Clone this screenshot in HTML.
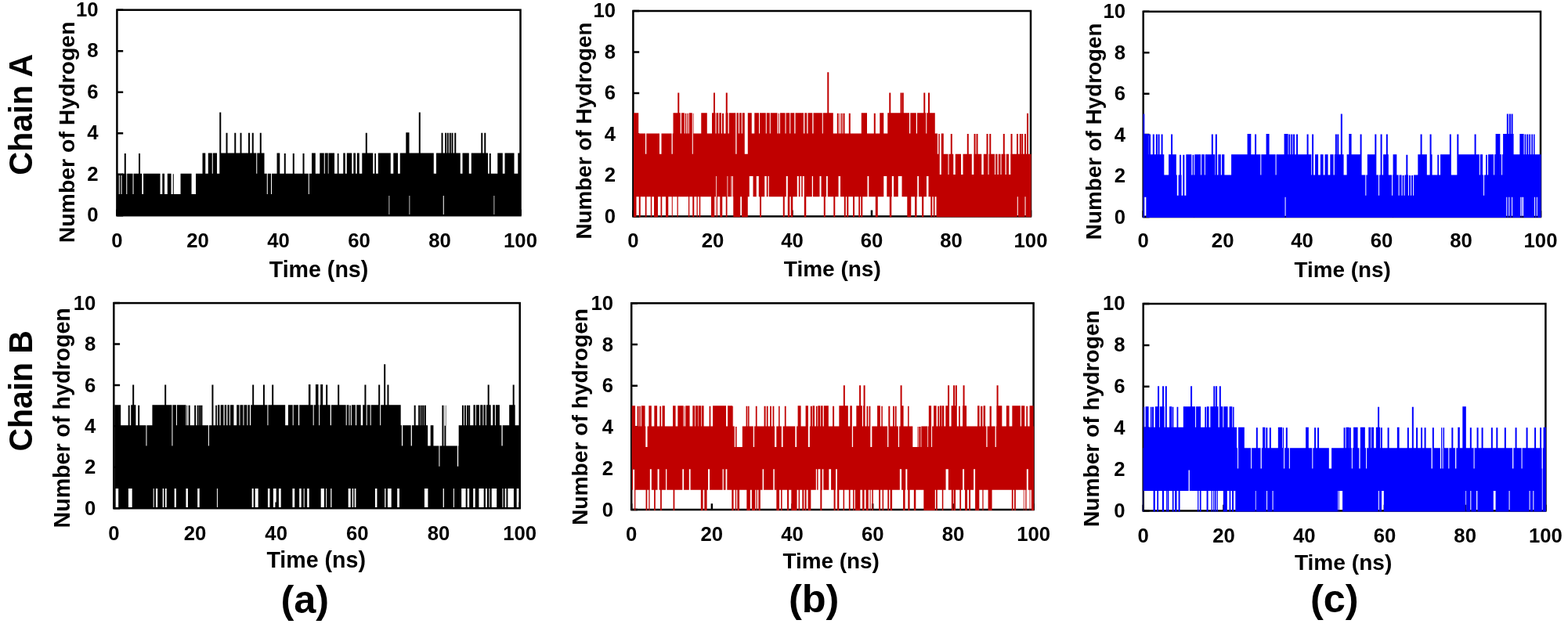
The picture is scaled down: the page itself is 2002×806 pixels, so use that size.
<!DOCTYPE html>
<html><head><meta charset="utf-8"><title>Hydrogen bonds</title>
<style>html,body{margin:0;padding:0;background:#fff;}body{width:2002px;height:806px;overflow:hidden;}svg{display:block;}</style>
</head><body>
<svg width="2002" height="806" viewBox="0 0 2002 806" font-family="'Liberation Sans', sans-serif" font-weight="bold" fill="#000">
<rect width="2002" height="806" fill="#fff"/>
<rect x="149.4" y="12.7" width="515.1" height="262.5" fill="none" stroke="#000" stroke-width="2.5"/>
<path d="M149.4 275.2h7.8M149.4 222.7h7.8M149.4 170.2h7.8M149.4 117.7h7.8M149.4 65.2h7.8M149.4 12.7h7.8M149.4 275.2v-7.8M252.42 275.2v-7.8M355.44 275.2v-7.8M458.46 275.2v-7.8M561.48 275.2v-7.8M664.5 275.2v-7.8" stroke="#000" stroke-width="2.5" fill="none"/>
<path d="M150.03 222.2H151.78V276.1H150.03ZM151.78 247.95H152.78V276.1H151.78ZM152.78 222.2H154.53V276.1H152.78ZM154.53 247.95H155.53V276.1H154.53ZM155.53 221.7H158.78V276.1H155.53ZM158.78 195.95H160.78V276.1H158.78ZM160.78 221.7H161.28V276.1H160.78ZM161.28 247.95H162.28V276.1H161.28ZM162.28 221.7H169.53V276.1H162.28ZM169.53 247.95H170.53V276.1H169.53ZM170.53 221.7H177.03V276.1H170.53ZM177.03 195.95H179.03V276.1H177.03ZM179.03 221.7H181.28V276.1H179.03ZM181.28 247.95H183.03V276.1H181.28ZM183.03 221.7H204.53V276.1H183.03ZM204.53 247.95H207.28V276.1H204.53ZM207.28 221.7H210.03V276.1H207.28ZM210.03 247.95H213.78V276.1H210.03ZM213.78 221.7H218.53V276.1H213.78ZM218.53 247.95H220.78V276.1H218.53ZM220.78 222.2H221.78V276.1H220.78ZM221.78 247.95H230.53V276.1H221.78ZM230.53 221.7H244.53V276.1H230.53ZM244.53 247.95H250.03V276.1H244.53ZM250.03 221.7H258.52V276.1H250.03ZM258.52 195.45H262.27V276.1H258.52ZM262.27 221.7H265.77V276.1H262.27ZM265.77 195.45H270.77V276.1H265.77ZM270.77 221.7H271.77V276.1H270.77ZM271.77 195.45H277.02V276.1H271.77ZM277.02 221.7H280.27V276.1H277.02ZM280.27 143.45H282.27V276.1H280.27ZM282.27 195.45H288.52V276.1H282.27ZM288.52 169.7H290.52V276.1H288.52ZM290.52 195.45H299.27V276.1H290.52ZM299.27 169.7H301.27V276.1H299.27ZM301.27 195.45H306.52V276.1H301.27ZM306.52 169.7H308.52V276.1H306.52ZM308.52 195.45H317.02V276.1H308.52ZM317.02 169.7H319.02V276.1H317.02ZM319.02 195.45H321.77V276.1H319.02ZM321.77 169.7H323.77V276.1H321.77ZM323.77 195.45H327.27V276.1H323.77ZM327.27 221.7H328.27V276.1H327.27ZM328.27 195.45H331.77V276.1H328.27ZM331.77 169.7H333.77V276.1H331.77ZM333.77 195.45H337.52V276.1H333.77ZM337.52 221.7H340.77V276.1H337.52ZM340.77 247.95H341.77V276.1H340.77ZM341.77 221.7H346.02V276.1H341.77ZM346.02 247.95H347.02V276.1H346.02ZM347.02 221.7H353.52V276.1H347.02ZM353.52 195.45H357.27V276.1H353.52ZM357.27 221.7H362.77V276.1H357.27ZM362.77 195.95H364.77V276.1H362.77ZM364.77 221.7H373.77V276.1H364.77ZM373.77 195.95H375.77V276.1H373.77ZM375.77 221.7H386.52V276.1H375.77ZM386.52 195.95H388.52V276.1H386.52ZM388.52 221.7H393.77V276.1H388.52ZM393.77 247.95H394.77V276.1H393.77ZM394.77 221.7H398.02V276.1H394.77ZM398.02 195.45H402.77V276.1H398.02ZM402.77 221.7H408.27V276.1H402.77ZM408.27 195.45H413.77V276.1H408.27ZM413.77 221.7H414.77V276.1H413.77ZM414.77 195.45H418.77V276.1H414.77ZM418.77 221.7H419.52V276.1H418.77ZM419.52 195.45H427.02V276.1H419.52ZM427.02 221.7H430.77V276.1H427.02ZM430.77 195.95H432.52V276.1H430.77ZM432.52 221.7H438.27V276.1H432.52ZM438.27 195.45H440.77V276.1H438.27ZM440.77 221.7H442.77V276.1H440.77ZM442.77 195.45H449.27V276.1H442.77ZM449.27 221.7H451.27V276.1H449.27ZM451.27 195.45H454.02V276.1H451.27ZM454.02 221.7H455.77V276.1H454.02ZM455.77 195.45H458.77V276.1H455.77ZM458.77 221.7H462.27V276.1H458.77ZM462.27 195.45H466.77V276.1H462.27ZM466.77 169.7H468.77V276.1H466.77ZM468.77 195.45H476.27V276.1H468.77ZM476.27 221.7H478.27V276.1H476.27ZM478.27 195.95H480.02V276.1H478.27ZM480.02 221.7H482.77V276.1H480.02ZM482.77 195.45H496.52V276.1H482.77ZM496.52 195.45H497.27V249.95H496.52ZM497.27 195.45H498.77V276.1H497.27ZM498.77 221.7H502.27V276.1H498.77ZM502.27 195.45H508.02V276.1H502.27ZM508.02 221.7H510.77V276.1H508.02ZM510.77 195.45H518.27V276.1H510.77ZM518.27 169.2H522.52V276.1H518.27ZM522.52 195.45H523.27V249.95H522.52ZM523.27 195.45H534.77V276.1H523.27ZM534.77 143.45H536.77V276.1H534.77ZM536.77 195.45H553.77V276.1H536.77ZM553.77 221.7H557.02V276.1H553.77ZM557.02 195.45H563.52V276.1H557.02ZM563.52 169.7H565.52V276.1H563.52ZM565.52 195.45H565.77V276.1H565.52ZM565.77 195.45H566.77V249.95H565.77ZM566.77 195.45H568.02V276.1H566.77ZM568.02 169.7H570.02V276.1H568.02ZM570.02 195.45H570.77V276.1H570.02ZM570.77 169.7H572.77V276.1H570.77ZM572.77 195.45H573.77V276.1H572.77ZM573.77 169.7H575.77V276.1H573.77ZM575.77 195.45H576.52V276.1H575.77ZM576.52 169.7H578.52V276.1H576.52ZM578.52 195.45H580.27V276.1H578.52ZM580.27 169.7H582.27V276.1H580.27ZM582.27 195.45H587.77V276.1H582.27ZM587.77 221.7H590.52V276.1H587.77ZM590.52 195.45H598.77V276.1H590.52ZM598.77 221.7H601.77V276.1H598.77ZM601.77 195.45H614.27V276.1H601.77ZM614.27 169.7H616.27V276.1H614.27ZM616.27 195.45H618.27V276.1H616.27ZM618.27 169.7H620.27V276.1H618.27ZM620.27 195.45H623.02V276.1H620.27ZM623.02 221.7H624.77V276.1H623.02ZM624.77 195.95H626.77V276.1H624.77ZM626.77 221.7H630.52V276.1H626.77ZM630.52 221.7H631.27V249.95H630.52ZM631.27 221.7H635.27V276.1H631.27ZM635.27 195.45H641.77V276.1H635.27ZM641.77 221.7H644.52V276.1H641.77ZM644.52 195.45H656.52V276.1H644.52ZM656.52 221.7H661.27V276.1H656.52ZM661.27 195.45H664.52V276.1H661.27ZM664.52 221.7H665.02V276.1H664.52Z" fill="#000"/>
<text x="125.56" y="283.47" font-size="25.7" text-anchor="end">0</text>
<text x="125.56" y="230.97" font-size="25.7" text-anchor="end">2</text>
<text x="125.56" y="178.47" font-size="25.7" text-anchor="end">4</text>
<text x="125.56" y="125.97" font-size="25.7" text-anchor="end">6</text>
<text x="125.56" y="73.47" font-size="25.7" text-anchor="end">8</text>
<text x="125.56" y="20.97" font-size="25.7" text-anchor="end">10</text>
<text x="149.4" y="316.25" font-size="25.7" text-anchor="middle">0</text>
<text x="252.42" y="316.25" font-size="25.7" text-anchor="middle">20</text>
<text x="355.44" y="316.25" font-size="25.7" text-anchor="middle">40</text>
<text x="458.46" y="316.25" font-size="25.7" text-anchor="middle">60</text>
<text x="561.48" y="316.25" font-size="25.7" text-anchor="middle">80</text>
<text x="664.5" y="316.25" font-size="25.7" text-anchor="middle">100</text>
<text x="343.71" y="353.7" font-size="28.6">Time (ns)</text>
<text transform="translate(94.7 310.3) rotate(-90)" font-size="28.44">Number of Hydrogen</text>
<rect x="145.3" y="387.1" width="518.4" height="262.1" fill="none" stroke="#000" stroke-width="2.5"/>
<path d="M145.3 649.2h7.8M145.3 596.78h7.8M145.3 544.36h7.8M145.3 491.94h7.8M145.3 439.52h7.8M145.3 387.1h7.8M145.3 649.2v-7.8M248.98 649.2v-7.8M352.66 649.2v-7.8M456.34 649.2v-7.8M560.02 649.2v-7.8M663.7 649.2v-7.8" stroke="#000" stroke-width="2.5" fill="none"/>
<path d="M146.18 517.15H147.68V650.1H146.18ZM147.68 517.15H151.18V623.99H147.68ZM151.18 517.15H154.18V650.1H151.18ZM154.18 543.36H163.68V650.1H154.18ZM163.68 517.65H163.93V650.1H163.68ZM163.93 517.65H165.68V623.99H163.93ZM165.68 543.36H167.18V623.99H165.68ZM167.18 517.15H168.68V623.99H167.18ZM168.68 517.15H169.18V650.1H168.68ZM169.18 491.44H171.18V650.1H169.18ZM171.18 517.15H173.43V650.1H171.18ZM173.43 543.36H176.18V650.1H173.43ZM176.18 517.65H178.18V650.1H176.18ZM178.18 543.36H186.43V650.1H178.18ZM186.43 569.57H187.43V650.1H186.43ZM187.43 543.36H194.43V650.1H187.43ZM194.43 517.15H195.68V650.1H194.43ZM195.68 517.15H196.68V623.99H195.68ZM196.68 517.15H198.93V650.1H196.68ZM198.93 517.15H201.18V623.99H198.93ZM201.18 517.15H207.68V650.1H201.18ZM207.68 517.15H209.18V623.99H207.68ZM209.18 517.15H210.18V650.1H209.18ZM210.18 491.44H210.93V650.1H210.18ZM210.93 491.44H212.18V623.99H210.93ZM212.18 517.15H212.68V623.99H212.18ZM212.68 517.15H219.43V650.1H212.68ZM219.43 569.57H220.43V650.1H219.43ZM220.43 517.15H222.68V650.1H220.43ZM222.68 517.15H224.93V623.99H222.68ZM224.93 543.36H225.93V650.1H224.93ZM225.93 517.15H237.43V650.1H225.93ZM237.43 543.36H238.43V623.99H237.43ZM238.43 517.65H239.18V623.99H238.43ZM239.18 543.36H239.93V623.99H239.18ZM239.93 543.36H240.68V650.1H239.93ZM240.68 517.65H242.68V650.1H240.68ZM242.68 543.36H248.18V650.1H242.68ZM248.18 517.65H250.18V650.1H248.18ZM250.18 543.36H251.68V650.1H250.18ZM251.68 517.65H252.18V650.1H251.68ZM252.18 517.65H253.68V623.99H252.18ZM253.68 543.36H254.18V623.99H253.68ZM254.18 517.65H254.68V623.99H254.18ZM254.68 517.65H256.18V650.1H254.68ZM256.18 543.36H256.43V650.1H256.18ZM256.43 517.65H258.43V650.1H256.43ZM258.43 543.36H265.93V650.1H258.43ZM265.93 569.57H266.93V650.1H265.93ZM266.93 543.36H270.43V650.1H266.93ZM270.43 491.44H272.43V650.1H270.43ZM272.43 543.36H275.18V650.1H272.43ZM275.18 517.65H276.93V650.1H275.18ZM276.93 543.36H277.93V623.99H276.93ZM277.93 517.15H280.43V650.1H277.93ZM280.43 543.36H281.68V650.1H280.43ZM281.68 517.15H285.43V650.1H281.68ZM285.43 543.36H286.68V650.1H285.43ZM286.68 517.15H289.18V650.1H286.68ZM289.18 543.36H290.43V650.1H289.18ZM290.43 517.15H292.93V650.1H290.43ZM292.93 543.36H293.93V650.1H292.93ZM293.93 517.15H298.43V650.1H293.93ZM298.43 543.36H302.18V650.1H298.43ZM302.18 517.15H305.43V650.1H302.18ZM305.43 543.36H306.43V650.1H305.43ZM306.43 517.15H310.43V650.1H306.43ZM310.43 543.36H311.43V650.1H310.43ZM311.43 517.15H315.43V650.1H311.43ZM315.43 543.36H316.43V650.1H315.43ZM316.43 517.15H318.93V650.1H316.43ZM318.93 543.36H320.18V650.1H318.93ZM320.18 517.15H321.68V650.1H320.18ZM321.68 517.15H322.18V623.99H321.68ZM322.18 491.44H323.68V623.99H322.18ZM323.68 491.44H324.18V650.1H323.68ZM324.18 517.15H325.68V650.1H324.18ZM325.68 517.15H329.68V623.99H325.68ZM329.68 517.15H335.93V650.1H329.68ZM335.93 491.44H337.93V650.1H335.93ZM337.93 517.15H341.43V650.1H337.93ZM341.43 543.36H341.93V650.1H341.43ZM341.93 543.36H342.43V623.99H341.93ZM342.43 517.15H344.43V623.99H342.43ZM344.43 517.15H347.18V650.1H344.43ZM347.18 491.44H348.93V650.1H347.18ZM348.93 491.44H349.18V623.99H348.93ZM349.18 517.15H352.68V623.99H349.18ZM352.68 517.15H355.93V650.1H352.68ZM355.93 517.15H358.68V623.99H355.93ZM358.68 517.15H364.18V650.1H358.68ZM364.18 543.36H367.93V650.1H364.18ZM367.93 517.15H373.43V650.1H367.93ZM373.43 517.15H373.68V623.99H373.43ZM373.68 543.36H374.68V623.99H373.68ZM374.68 517.15H376.18V623.99H374.68ZM376.18 517.15H380.93V650.1H376.18ZM380.93 543.36H382.18V650.1H380.93ZM382.18 517.15H384.68V623.99H382.18ZM384.68 517.15H387.68V650.1H384.68ZM387.68 517.15H388.68V623.99H387.68ZM388.68 517.15H392.18V650.1H388.68ZM392.18 517.15H393.93V623.99H392.18ZM393.93 490.94H394.68V623.99H393.93ZM394.68 490.94H396.43V650.1H394.68ZM396.43 517.15H399.68V650.1H396.43ZM399.68 543.36H400.68V650.1H399.68ZM400.68 517.15H402.93V650.1H400.68ZM402.93 490.94H406.43V650.1H402.93ZM406.43 517.15H407.18V650.1H406.43ZM407.18 543.36H408.18V650.1H407.18ZM408.18 517.15H409.18V650.1H408.18ZM409.18 490.94H409.68V650.1H409.18ZM409.68 490.94H412.18V623.99H409.68ZM412.18 517.15H413.93V623.99H412.18ZM413.93 517.15H416.18V650.1H413.93ZM416.18 491.44H417.18V623.99H416.18ZM417.18 491.44H418.18V650.1H417.18ZM418.18 517.15H421.68V650.1H418.18ZM421.68 543.36H422.18V650.1H421.68ZM422.18 543.36H422.93V623.99H422.18ZM422.93 517.15H423.43V623.99H422.93ZM423.43 517.15H431.18V650.1H423.43ZM431.18 491.44H433.18V650.1H431.18ZM433.18 517.15H441.68V650.1H433.18ZM441.68 543.36H442.68V650.1H441.68ZM442.68 517.15H444.68V650.1H442.68ZM444.68 517.15H445.43V623.99H444.68ZM445.43 543.36H446.43V623.99H445.43ZM446.43 517.65H447.68V623.99H446.43ZM447.68 517.65H447.93V650.1H447.68ZM447.93 543.36H448.93V650.1H447.93ZM448.93 517.15H449.68V650.1H448.93ZM449.68 517.15H451.18V623.99H449.68ZM451.18 517.15H452.68V650.1H451.18ZM452.68 517.15H453.93V623.99H452.68ZM453.93 543.36H454.43V623.99H453.93ZM454.43 543.36H455.18V650.1H454.43ZM455.18 517.15H460.68V650.1H455.18ZM460.68 543.36H463.18V650.1H460.68ZM463.18 517.15H465.43V650.1H463.18ZM465.43 491.44H467.43V650.1H465.43ZM467.43 517.15H467.68V650.1H467.43ZM467.68 543.36H468.68V650.1H467.68ZM468.68 517.15H472.68V650.1H468.68ZM472.68 543.36H473.68V650.1H472.68ZM473.68 517.15H478.93V650.1H473.68ZM478.93 517.15H481.43V623.99H478.93ZM481.43 517.15H483.18V650.1H481.43ZM483.18 491.44H485.18V650.1H483.18ZM485.18 543.36H486.18V650.1H485.18ZM486.18 517.15H490.18V650.1H486.18ZM490.18 465.23H491.18V650.1H490.18ZM491.18 465.23H492.18V623.99H491.18ZM492.18 517.15H492.43V623.99H492.18ZM492.43 517.15H494.43V650.1H492.43ZM494.43 491.44H494.93V650.1H494.43ZM494.93 491.44H496.43V623.99H494.93ZM496.43 517.15H499.68V623.99H496.43ZM499.68 517.15H507.18V650.1H499.68ZM507.18 517.15H509.93V623.99H507.18ZM509.93 517.15H511.68V650.1H509.93ZM511.68 543.36H512.92V650.1H511.68ZM512.92 569.57H514.17V650.1H512.92ZM514.17 543.36H524.67V650.1H514.17ZM524.67 569.57H525.92V650.1H524.67ZM525.92 543.36H528.67V650.1H525.92ZM528.67 517.65H530.67V650.1H528.67ZM530.67 543.36H534.17V650.1H530.67ZM534.17 517.65H536.17V650.1H534.17ZM536.17 543.36H536.67V650.1H536.17ZM536.67 517.65H538.67V650.1H536.67ZM538.67 543.36H539.17V650.1H538.67ZM539.17 517.65H541.17V650.1H539.17ZM541.17 543.36H541.67V650.1H541.17ZM541.67 517.65H541.92V650.1H541.67ZM541.92 517.65H543.92V623.99H541.92ZM543.92 543.36H546.17V623.99H543.92ZM546.17 569.57H546.42V623.99H546.17ZM546.42 569.57H549.67V650.1H546.42ZM549.67 543.36H553.42V650.1H549.67ZM553.42 569.57H560.42V650.1H553.42ZM560.42 595.78H561.42V650.1H560.42ZM561.42 569.57H564.42V650.1H561.42ZM564.42 517.65H565.67V650.1H564.42ZM565.67 517.65H566.42V623.99H565.67ZM566.42 569.57H566.92V623.99H566.42ZM566.92 569.57H567.42V650.1H566.92ZM567.42 517.65H567.67V650.1H567.42ZM567.67 543.86H568.92V650.1H567.67ZM568.92 517.65H569.42V650.1H568.92ZM569.42 569.57H578.92V650.1H569.42ZM578.92 569.57H579.92V623.99H578.92ZM579.92 569.57H583.92V650.1H579.92ZM583.92 595.78H585.17V650.1H583.92ZM585.17 569.57H585.67V650.1H585.17ZM585.67 543.36H589.17V650.1H585.67ZM589.17 543.36H589.92V623.99H589.17ZM589.92 517.65H591.92V623.99H589.92ZM591.92 543.36H592.92V623.99H591.92ZM592.92 517.65H594.67V623.99H592.92ZM594.67 517.65H594.92V650.1H594.67ZM594.92 543.36H595.92V650.1H594.92ZM595.92 517.65H596.67V650.1H595.92ZM596.67 517.65H597.92V623.99H596.67ZM597.92 543.36H598.17V623.99H597.92ZM598.17 517.65H599.17V623.99H598.17ZM599.17 517.65H600.17V650.1H599.17ZM600.17 543.36H604.17V650.1H600.17ZM604.17 543.36H604.42V623.99H604.17ZM604.42 517.15H606.67V623.99H604.42ZM606.67 517.15H606.92V650.1H606.67ZM606.92 543.36H607.92V650.1H606.92ZM607.92 517.15H611.42V650.1H607.92ZM611.42 517.15H611.92V623.99H611.42ZM611.92 543.36H613.17V623.99H611.92ZM613.17 517.15H616.42V623.99H613.17ZM616.42 543.36H617.42V623.99H616.42ZM617.42 517.15H617.67V623.99H617.42ZM617.67 517.15H619.92V650.1H617.67ZM619.92 543.36H620.92V623.99H619.92ZM620.92 517.15H621.92V623.99H620.92ZM621.92 517.15H622.67V650.1H621.92ZM622.67 491.44H624.42V650.1H622.67ZM624.42 491.44H624.67V623.99H624.42ZM624.67 517.15H625.42V623.99H624.67ZM625.42 517.15H626.67V650.1H625.42ZM626.67 543.36H627.67V650.1H626.67ZM627.67 543.36H629.17V623.99H627.67ZM629.17 517.15H631.92V623.99H629.17ZM631.92 543.36H632.92V623.99H631.92ZM632.92 517.15H634.17V623.99H632.92ZM634.17 517.15H637.92V650.1H634.17ZM637.92 543.36H640.42V650.1H637.92ZM640.42 569.57H641.42V650.1H640.42ZM641.42 569.57H641.67V623.99H641.42ZM641.67 543.36H642.42V623.99H641.67ZM642.42 543.36H644.67V650.1H642.42ZM644.67 543.36H646.42V623.99H644.67ZM646.42 543.36H648.42V650.1H646.42ZM648.42 543.36H650.17V623.99H648.42ZM650.17 517.15H654.67V623.99H650.17ZM654.67 491.44H655.92V623.99H654.67ZM655.92 491.44H656.67V650.1H655.92ZM656.67 517.15H657.67V650.1H656.67ZM657.67 543.36H659.67V650.1H657.67ZM659.67 543.36H662.92V623.99H659.67ZM662.92 543.36H664.17V650.1H662.92Z" fill="#000"/>
<text x="122.26" y="657.77" font-size="25.7" text-anchor="end">0</text>
<text x="122.26" y="605.35" font-size="25.7" text-anchor="end">2</text>
<text x="122.26" y="552.93" font-size="25.7" text-anchor="end">4</text>
<text x="122.26" y="500.51" font-size="25.7" text-anchor="end">6</text>
<text x="122.26" y="448.09" font-size="25.7" text-anchor="end">8</text>
<text x="122.26" y="395.67" font-size="25.7" text-anchor="end">10</text>
<text x="145.3" y="690.35" font-size="25.7" text-anchor="middle">0</text>
<text x="248.98" y="690.35" font-size="25.7" text-anchor="middle">20</text>
<text x="352.66" y="690.35" font-size="25.7" text-anchor="middle">40</text>
<text x="456.34" y="690.35" font-size="25.7" text-anchor="middle">60</text>
<text x="560.02" y="690.35" font-size="25.7" text-anchor="middle">80</text>
<text x="663.7" y="690.35" font-size="25.7" text-anchor="middle">100</text>
<text x="340.41" y="724.5" font-size="28.6">Time (ns)</text>
<text transform="translate(89.3 674.5) rotate(-90)" font-size="28.62">Number of hydrogen</text>
<rect x="808.4" y="14" width="507.6" height="262.4" fill="none" stroke="#000" stroke-width="2.5"/>
<path d="M808.4 276.4h7.8M808.4 223.92h7.8M808.4 171.44h7.8M808.4 118.96h7.8M808.4 66.48h7.8M808.4 14h7.8M808.4 276.4v-7.8M909.92 276.4v-7.8M1011.44 276.4v-7.8M1112.96 276.4v-7.8M1214.48 276.4v-7.8M1316 276.4v-7.8" stroke="#000" stroke-width="2.5" fill="none"/>
<path d="M809.02 144.2H812.52V277.3H809.02ZM812.52 144.2H815.27V251.16H812.52ZM815.27 170.44H815.77V251.16H815.27ZM815.77 170.44H817.77V277.3H815.77ZM817.77 170.44H823.77V251.16H817.77ZM823.77 170.44H824.02V277.3H823.77ZM824.02 196.68H825.27V277.3H824.02ZM825.27 170.44H825.52V277.3H825.27ZM825.52 170.44H830.77V251.16H825.52ZM830.77 170.44H832.27V277.3H830.77ZM832.27 170.44H835.02V251.16H832.27ZM835.02 170.44H840.02V277.3H835.02ZM840.02 170.44H842.02V251.16H840.02ZM842.02 196.68H843.52V251.16H842.02ZM843.52 196.68H844.52V277.3H843.52ZM844.52 170.44H845.27V277.3H844.52ZM845.27 170.44H850.02V251.16H845.27ZM850.02 170.44H853.27V277.3H850.02ZM853.27 170.44H857.52V251.16H853.27ZM857.52 196.68H857.77V251.16H857.52ZM857.77 196.68H858.77V277.3H857.77ZM858.77 170.44H859.52V251.16H858.77ZM859.52 144.2H864.52V251.16H859.52ZM864.52 144.2H865.27V277.3H864.52ZM865.27 118.46H865.77V277.3H865.27ZM865.77 118.46H867.27V251.16H865.77ZM867.27 144.2H868.77V251.16H867.27ZM868.77 170.44H870.02V251.16H868.77ZM870.02 144.2H873.77V251.16H870.02ZM873.77 170.44H874.77V251.16H873.77ZM874.77 144.7H876.27V251.16H874.77ZM876.27 170.44H877.52V251.16H876.27ZM877.52 144.7H878.77V251.16H877.52ZM878.77 170.44H879.02V251.16H878.77ZM879.02 170.44H879.77V277.3H879.02ZM879.77 144.2H880.27V277.3H879.77ZM880.27 144.2H883.77V251.16H880.27ZM883.77 196.68H884.27V251.16H883.77ZM884.27 196.68H884.77V277.3H884.27ZM884.77 144.7H885.52V277.3H884.77ZM885.52 170.44H886.27V277.3H885.52ZM886.27 170.44H889.52V251.16H886.27ZM889.52 170.44H890.77V277.3H889.52ZM890.77 170.44H892.77V251.16H890.77ZM892.77 170.44H894.27V277.3H892.77ZM894.27 170.44H895.27V251.16H894.27ZM895.27 144.2H902.77V251.16H895.27ZM902.77 170.44H908.02V251.16H902.77ZM908.02 170.44H909.02V277.3H908.02ZM909.02 144.2H911.02V277.3H909.02ZM911.02 118.46H912.27V277.3H911.02ZM912.27 118.46H913.02V251.16H912.27ZM913.02 144.2H913.52V251.16H913.02ZM913.52 170.44H913.77V251.16H913.52ZM913.77 170.44H914.02V277.3H913.77ZM914.02 170.44H914.52V224.92H914.02ZM914.52 144.2H914.77V224.92H914.52ZM914.77 144.2H916.02V277.3H914.77ZM916.02 144.2H917.27V251.16H916.02ZM917.27 170.44H918.27V251.16H917.27ZM918.27 144.2H919.27V251.16H918.27ZM919.27 144.2H921.02V277.3H919.27ZM921.02 170.44H922.02V277.3H921.02ZM922.02 144.7H922.27V277.3H922.02ZM922.27 144.7H924.02V251.16H922.27ZM924.02 170.44H926.52V251.16H924.02ZM926.52 144.2H926.77V251.16H926.52ZM926.77 118.46H928.52V277.3H926.77ZM928.52 118.46H928.77V224.92H928.52ZM928.77 144.2H929.27V224.92H928.77ZM929.27 144.2H929.52V251.16H929.27ZM929.52 170.44H930.77V251.16H929.52ZM930.77 144.2H933.52V251.16H930.77ZM933.52 144.2H934.27V224.92H933.52ZM934.27 144.2H934.77V251.16H934.27ZM934.77 144.2H935.77V224.92H934.77ZM935.77 144.2H936.27V251.16H935.77ZM936.27 144.2H939.27V277.3H936.27ZM939.27 196.68H940.52V277.3H939.27ZM940.52 144.2H943.02V277.3H940.52ZM943.02 170.44H944.02V277.3H943.02ZM944.02 144.2H945.27V277.3H944.02ZM945.27 144.2H946.77V251.16H945.27ZM946.77 170.44H947.02V251.16H946.77ZM947.02 170.44H947.77V277.3H947.02ZM947.77 144.2H950.77V277.3H947.77ZM950.77 196.68H954.77V277.3H950.77ZM954.77 144.2H956.77V251.16H954.77ZM956.77 144.2H959.77V224.92H956.77ZM959.77 170.44H961.52V224.92H959.77ZM961.52 170.44H963.27V251.16H961.52ZM963.27 144.2H965.77V251.16H963.27ZM965.77 144.2H968.77V224.92H965.77ZM968.77 144.2H969.02V251.16H968.77ZM969.02 170.44H970.02V251.16H969.02ZM970.02 144.2H972.02V277.3H970.02ZM972.02 144.2H976.27V251.16H972.02ZM976.27 144.2H977.77V224.92H976.27ZM977.77 170.44H978.77V224.92H977.77ZM978.77 144.2H980.52V251.16H978.77ZM980.52 144.2H981.77V224.92H980.52ZM981.77 144.2H982.77V251.16H981.77ZM982.77 170.44H983.77V251.16H982.77ZM983.77 144.2H992.52V251.16H983.77ZM992.52 170.44H993.77V251.16H992.52ZM993.77 144.7H994.77V251.16H993.77ZM994.77 170.44H996.02V251.16H994.77ZM996.02 144.2H999.77V251.16H996.02ZM999.77 144.2H1001.77V277.3H999.77ZM1001.77 144.2H1002.52V251.16H1001.77ZM1002.52 170.44H1003.52V251.16H1002.52ZM1003.52 144.2H1003.77V251.16H1003.52ZM1003.77 144.2H1005.77V224.92H1003.77ZM1005.77 144.2H1008.27V277.3H1005.77ZM1008.27 170.44H1009.27V251.16H1008.27ZM1009.27 144.2H1009.77V251.16H1009.27ZM1009.77 144.2H1012.27V277.3H1009.77ZM1012.27 144.2H1014.27V251.16H1012.27ZM1014.27 170.44H1015.52V251.16H1014.27ZM1015.52 144.2H1017.77V251.16H1015.52ZM1017.77 144.2H1019.77V224.92H1017.77ZM1019.77 144.2H1021.52V251.16H1019.77ZM1021.52 144.2H1023.27V224.92H1021.52ZM1023.27 144.2H1024.78V251.16H1023.27ZM1024.78 144.2H1026.03V224.92H1024.78ZM1026.03 170.44H1026.78V224.92H1026.03ZM1026.78 170.44H1027.28V277.3H1026.78ZM1027.28 144.2H1029.28V277.3H1027.28ZM1029.28 144.2H1030.28V251.16H1029.28ZM1030.28 170.44H1031.53V251.16H1030.28ZM1031.53 144.2H1036.78V251.16H1031.53ZM1036.78 144.2H1037.28V224.92H1036.78ZM1037.28 170.44H1038.03V224.92H1037.28ZM1038.03 170.44H1038.53V251.16H1038.03ZM1038.53 144.2H1046.53V251.16H1038.53ZM1046.53 144.2H1048.53V224.92H1046.53ZM1048.53 144.2H1049.78V251.16H1048.53ZM1049.78 170.44H1050.78V251.16H1049.78ZM1050.78 144.2H1051.78V251.16H1050.78ZM1051.78 144.2H1053.78V277.3H1051.78ZM1053.78 144.2H1055.03V251.16H1053.78ZM1055.03 144.2H1056.28V224.92H1055.03ZM1056.28 92.22H1056.78V224.92H1056.28ZM1056.78 92.22H1058.28V251.16H1056.78ZM1058.28 144.2H1063.78V251.16H1058.28ZM1063.78 170.44H1064.28V251.16H1063.78ZM1064.28 170.44H1066.28V277.3H1064.28ZM1066.28 170.44H1068.78V251.16H1066.28ZM1068.78 144.7H1070.53V251.16H1068.78ZM1070.53 144.7H1070.78V224.92H1070.53ZM1070.78 170.44H1072.03V224.92H1070.78ZM1072.03 144.7H1072.78V224.92H1072.03ZM1072.78 170.44H1073.03V224.92H1072.78ZM1073.03 170.44H1074.03V251.16H1073.03ZM1074.03 144.7H1075.53V251.16H1074.03ZM1075.53 170.44H1076.53V251.16H1075.53ZM1076.53 144.7H1077.78V251.16H1076.53ZM1077.78 144.7H1078.53V277.3H1077.78ZM1078.53 170.44H1079.78V277.3H1078.53ZM1079.78 170.44H1081.28V251.16H1079.78ZM1081.28 170.44H1083.28V277.3H1081.28ZM1083.28 170.44H1083.78V251.16H1083.28ZM1083.78 144.7H1085.78V251.16H1083.78ZM1085.78 170.44H1089.03V251.16H1085.78ZM1089.03 170.44H1091.03V277.3H1089.03ZM1091.03 170.44H1096.28V251.16H1091.03ZM1096.28 170.44H1098.03V277.3H1096.28ZM1098.03 170.44H1099.28V251.16H1098.03ZM1099.28 170.44H1099.78V277.3H1099.28ZM1099.78 144.2H1101.28V277.3H1099.78ZM1101.28 144.2H1107.03V251.16H1101.28ZM1107.03 170.44H1107.53V251.16H1107.03ZM1107.53 170.44H1109.28V224.92H1107.53ZM1109.28 170.44H1115.78V251.16H1109.28ZM1115.78 144.7H1117.78V251.16H1115.78ZM1117.78 170.44H1120.78V277.3H1117.78ZM1120.78 170.44H1123.28V251.16H1120.78ZM1123.28 144.2H1128.28V251.16H1123.28ZM1128.28 170.44H1132.28V224.92H1128.28ZM1132.28 170.44H1133.28V251.16H1132.28ZM1133.28 144.2H1135.28V251.16H1133.28ZM1135.28 118.46H1135.78V251.16H1135.28ZM1135.78 118.46H1137.28V277.3H1135.78ZM1137.28 144.2H1138.28V277.3H1137.28ZM1138.28 144.2H1138.78V251.16H1138.28ZM1138.78 144.2H1141.03V224.92H1138.78ZM1141.03 144.2H1146.78V251.16H1141.03ZM1146.78 144.2H1149.53V224.92H1146.78ZM1149.53 118.46H1151.53V224.92H1149.53ZM1151.53 144.2H1151.78V251.16H1151.53ZM1151.78 118.46H1153.78V251.16H1151.78ZM1153.78 144.2H1158.28V251.16H1153.78ZM1158.28 144.2H1161.03V277.3H1158.28ZM1161.03 170.44H1162.28V277.3H1161.03ZM1162.28 144.2H1163.28V277.3H1162.28ZM1163.28 144.2H1168.03V251.16H1163.28ZM1168.03 144.2H1169.78V277.3H1168.03ZM1169.78 170.44H1170.53V277.3H1169.78ZM1170.53 170.44H1171.03V251.16H1170.53ZM1171.03 144.2H1171.28V251.16H1171.03ZM1171.28 144.2H1173.03V224.92H1171.28ZM1173.03 144.2H1177.03V251.16H1173.03ZM1177.03 144.2H1179.28V277.3H1177.03ZM1179.28 118.46H1181.28V251.16H1179.28ZM1181.28 144.2H1182.28V251.16H1181.28ZM1182.28 170.44H1183.03V251.16H1182.28ZM1183.03 170.44H1183.28V224.92H1183.03ZM1183.28 144.2H1185.03V224.92H1183.28ZM1185.03 118.46H1185.53V224.92H1185.03ZM1185.53 118.46H1187.03V251.16H1185.53ZM1187.03 144.2H1188.28V251.16H1187.03ZM1188.28 144.2H1190.28V277.3H1188.28ZM1190.28 144.2H1191.78V251.16H1190.28ZM1191.78 144.2H1193.53V277.3H1191.78ZM1193.53 144.2H1193.78V251.16H1193.53ZM1193.78 170.44H1195.53V251.16H1193.78ZM1195.53 170.44H1197.03V277.3H1195.53ZM1197.03 196.68H1198.28V277.3H1197.03ZM1198.28 170.94H1199.78V277.3H1198.28ZM1199.78 222.92H1201.78V277.3H1199.78ZM1201.78 170.44H1204.78V277.3H1201.78ZM1204.78 196.68H1210.53V277.3H1204.78ZM1210.53 222.92H1211.53V277.3H1210.53ZM1211.53 196.68H1213.78V277.3H1211.53ZM1213.78 170.94H1215.78V277.3H1213.78ZM1215.78 196.68H1217.28V277.3H1215.78ZM1217.28 222.92H1219.78V277.3H1217.28ZM1219.78 196.68H1227.03V277.3H1219.78ZM1227.03 222.92H1229.53V277.3H1227.03ZM1229.53 196.68H1234.78V277.3H1229.53ZM1234.78 170.94H1236.78V277.3H1234.78ZM1236.78 196.68H1240.78V277.3H1236.78ZM1240.78 222.92H1243.28V277.3H1240.78ZM1243.28 196.68H1243.53V277.3H1243.28ZM1243.53 170.94H1245.53V277.3H1243.53ZM1245.53 196.68H1246.53V277.3H1245.53ZM1246.53 170.94H1248.53V277.3H1246.53ZM1248.53 196.68H1253.28V277.3H1248.53ZM1253.28 222.92H1255.78V277.3H1253.28ZM1255.78 196.68H1259.53V277.3H1255.78ZM1259.53 170.94H1261.53V277.3H1259.53ZM1261.53 222.92H1262.53V277.3H1261.53ZM1262.53 196.68H1263.28V277.3H1262.53ZM1263.28 170.94H1265.28V277.3H1263.28ZM1265.28 196.68H1270.03V277.3H1265.28ZM1270.03 222.92H1271.03V277.3H1270.03ZM1271.03 196.68H1273.53V277.3H1271.03ZM1273.53 222.92H1274.78V277.3H1273.53ZM1274.78 196.68H1277.53V277.3H1274.78ZM1277.53 222.92H1278.53V277.3H1277.53ZM1278.53 196.68H1280.78V277.3H1278.53ZM1280.78 170.94H1282.78V277.3H1280.78ZM1282.78 196.68H1283.53V277.3H1282.78ZM1283.53 222.92H1284.78V277.3H1283.53ZM1284.78 196.68H1288.03V277.3H1284.78ZM1288.03 222.92H1290.28V277.3H1288.03ZM1290.28 196.68H1290.53V277.3H1290.28ZM1290.53 170.94H1292.53V277.3H1290.53ZM1292.53 196.68H1298.03V277.3H1292.53ZM1298.03 170.94H1298.78V277.3H1298.03ZM1298.78 170.94H1299.78V251.16H1298.78ZM1299.78 170.94H1300.03V277.3H1299.78ZM1300.03 196.68H1301.78V277.3H1300.03ZM1301.78 170.94H1303.78V277.3H1301.78ZM1303.78 196.68H1304.28V277.3H1303.78ZM1304.28 170.94H1306.28V277.3H1304.28ZM1306.28 196.68H1308.03V277.3H1306.28ZM1308.03 170.94H1308.53V277.3H1308.03ZM1308.53 170.94H1309.53V251.16H1308.53ZM1309.53 170.94H1310.03V277.3H1309.53ZM1310.03 196.68H1311.03V277.3H1310.03ZM1311.03 144.7H1313.03V277.3H1311.03ZM1313.03 196.68H1316.53V277.3H1313.03Z" fill="#c00000"/>
<text x="786.16" y="284.87" font-size="25.7" text-anchor="end">0</text>
<text x="786.16" y="232.39" font-size="25.7" text-anchor="end">2</text>
<text x="786.16" y="179.91" font-size="25.7" text-anchor="end">4</text>
<text x="786.16" y="127.43" font-size="25.7" text-anchor="end">6</text>
<text x="786.16" y="74.95" font-size="25.7" text-anchor="end">8</text>
<text x="786.16" y="22.47" font-size="25.7" text-anchor="end">10</text>
<text x="808.4" y="315.65" font-size="25.7" text-anchor="middle">0</text>
<text x="909.92" y="315.65" font-size="25.7" text-anchor="middle">20</text>
<text x="1011.44" y="315.65" font-size="25.7" text-anchor="middle">40</text>
<text x="1112.96" y="315.65" font-size="25.7" text-anchor="middle">60</text>
<text x="1214.48" y="315.65" font-size="25.7" text-anchor="middle">80</text>
<text x="1316" y="315.65" font-size="25.7" text-anchor="middle">100</text>
<text x="1000.82" y="353" font-size="28.0">Time (ns)</text>
<text transform="translate(755 305.6) rotate(-90)" font-size="27.88">Number of Hydrogen</text>
<rect x="806.2" y="387.3" width="513.4" height="263.7" fill="none" stroke="#000" stroke-width="2.5"/>
<path d="M806.2 651h7.8M806.2 598.26h7.8M806.2 545.52h7.8M806.2 492.78h7.8M806.2 440.04h7.8M806.2 387.3h7.8M806.2 651v-7.8M908.88 651v-7.8M1011.56 651v-7.8M1114.24 651v-7.8M1216.92 651v-7.8M1319.6 651v-7.8" stroke="#000" stroke-width="2.5" fill="none"/>
<path d="M806.58 518.15H806.83V651.9H806.58ZM806.83 518.15H808.08V625.63H806.83ZM808.08 518.15H810.08V599.26H808.08ZM810.08 518.15H811.08V651.9H810.08ZM811.08 544.52H811.33V651.9H811.08ZM811.33 544.52H813.58V625.63H811.33ZM813.58 518.65H815.58V625.63H813.58ZM815.58 544.52H816.33V625.63H815.58ZM816.33 518.65H817.83V625.63H816.33ZM817.83 544.52H818.83V625.63H817.83ZM818.83 518.15H823.58V625.63H818.83ZM823.58 544.52H824.33V625.63H823.58ZM824.33 570.89H824.58V625.63H824.33ZM824.58 570.89H826.33V651.9H824.58ZM826.33 570.89H826.58V625.63H826.33ZM826.58 544.52H828.33V625.63H826.58ZM828.33 518.15H829.58V651.9H828.33ZM829.58 518.15H829.83V625.63H829.58ZM829.83 518.15H831.83V599.26H829.83ZM831.83 544.52H835.08V625.63H831.83ZM835.08 544.52H835.33V651.9H835.08ZM835.33 518.15H836.83V651.9H835.33ZM836.83 518.15H839.08V625.63H836.83ZM839.08 544.52H839.58V625.63H839.08ZM839.58 544.52H841.58V599.26H839.58ZM841.58 544.52H842.33V625.63H841.58ZM842.33 518.65H843.08V625.63H842.33ZM843.08 518.65H844.08V651.9H843.08ZM844.08 544.52H844.83V651.9H844.08ZM844.83 544.52H845.58V625.63H844.83ZM845.58 518.15H848.83V625.63H845.58ZM848.83 544.52H850.08V625.63H848.83ZM850.08 544.52H851.33V599.26H850.08ZM851.33 544.52H859.08V625.63H851.33ZM859.08 518.15H859.58V625.63H859.08ZM859.58 518.15H861.33V651.9H859.58ZM861.33 518.15H862.58V625.63H861.33ZM862.58 544.52H865.33V625.63H862.58ZM865.33 518.15H871.33V625.63H865.33ZM871.33 518.15H872.58V599.26H871.33ZM872.58 544.52H873.08V599.26H872.58ZM873.08 544.52H873.58V625.63H873.08ZM873.58 518.65H874.33V625.63H873.58ZM874.33 544.52H875.33V625.63H874.33ZM875.33 518.15H879.83V625.63H875.33ZM879.83 518.15H880.58V599.26H879.83ZM880.58 544.52H881.58V599.26H880.58ZM881.58 544.52H884.33V625.63H881.58ZM884.33 518.15H887.08V625.63H884.33ZM887.08 544.52H887.83V625.63H887.08ZM887.83 518.15H891.33V625.63H887.83ZM891.33 544.52H891.83V625.63H891.33ZM891.83 518.15H894.83V625.63H891.83ZM894.83 518.15H895.33V651.9H894.83ZM895.33 544.52H896.08V651.9H895.33ZM896.08 518.15H897.58V651.9H896.08ZM897.58 518.15H898.58V625.63H897.58ZM898.58 544.52H899.33V625.63H898.58ZM899.33 544.52H902.58V651.9H899.33ZM902.58 544.52H904.08V625.63H902.58ZM904.08 544.52H905.58V599.26H904.08ZM905.58 518.65H906.08V599.26H905.58ZM906.08 518.65H907.33V625.63H906.08ZM907.33 544.52H910.08V625.63H907.33ZM910.08 518.15H922.58V625.63H910.08ZM922.58 518.15H923.83V599.26H922.58ZM923.83 518.15H926.58V625.63H923.83ZM926.58 518.15H927.08V599.26H926.58ZM927.08 544.52H928.33V599.26H927.08ZM928.33 544.52H929.08V625.63H928.33ZM929.08 518.15H934.33V625.63H929.08ZM934.33 518.15H935.08V651.9H934.33ZM935.08 544.52H935.33V651.9H935.08ZM935.33 518.65H936.08V651.9H935.33ZM936.08 544.52H936.58V651.9H936.08ZM936.58 544.52H937.83V625.63H936.58ZM937.83 570.89H938.83V625.63H937.83ZM938.83 570.89H939.08V651.9H938.83ZM939.08 545.02H940.08V651.9H939.08ZM940.08 545.02H940.58V625.63H940.08ZM940.58 570.89H941.33V625.63H940.58ZM941.33 570.89H944.08V651.9H941.33ZM944.08 570.89H947.83V625.63H944.08ZM947.83 544.52H952.58V625.63H947.83ZM952.58 518.65H953.33V625.63H952.58ZM953.33 518.65H954.33V651.9H953.33ZM954.33 544.52H955.08V651.9H954.33ZM955.08 518.65H956.58V651.9H955.08ZM956.58 544.52H957.83V651.9H956.58ZM957.83 544.52H959.83V625.63H957.83ZM959.83 544.52H961.83V651.9H959.83ZM961.83 570.89H963.08V651.9H961.83ZM963.08 544.52H964.33V651.9H963.08ZM964.33 544.52H964.83V625.63H964.33ZM964.83 518.65H965.58V625.63H964.83ZM965.58 518.65H966.58V651.9H965.58ZM966.58 544.52H966.83V651.9H966.58ZM966.83 544.52H968.33V625.63H966.83ZM968.33 544.52H970.83V651.9H968.33ZM970.83 544.52H973.58V625.63H970.83ZM973.58 544.52H975.08V599.26H973.58ZM975.08 544.52H975.58V625.63H975.08ZM975.58 518.65H977.58V625.63H975.58ZM977.58 544.52H978.83V625.63H977.58ZM978.83 518.65H980.58V625.63H978.83ZM980.58 544.52H983.08V625.63H980.58ZM983.08 518.65H984.83V625.63H983.08ZM984.83 544.52H986.58V625.63H984.83ZM986.58 518.65H987.33V625.63H986.58ZM987.33 518.65H988.33V599.26H987.33ZM988.33 544.52H988.83V599.26H988.33ZM988.83 544.52H989.08V625.63H988.83ZM989.08 570.89H991.33V625.63H989.08ZM991.33 544.52H994.08V651.9H991.33ZM994.08 518.65H995.08V651.9H994.08ZM995.08 518.65H995.58V625.63H995.08ZM995.58 544.52H997.08V625.63H995.58ZM997.08 544.52H997.83V651.9H997.08ZM997.83 570.89H998.58V651.9H997.83ZM998.58 570.89H999.58V625.63H998.58ZM999.58 544.52H1001.83V625.63H999.58ZM1001.83 518.65H1003.58V625.63H1001.83ZM1003.58 544.52H1005.08V625.63H1003.58ZM1005.08 544.52H1007.08V651.9H1005.08ZM1007.08 544.52H1010.33V625.63H1007.08ZM1010.33 544.52H1015.33V651.9H1010.33ZM1015.33 570.89H1017.08V651.9H1015.33ZM1017.08 544.52H1017.58V651.9H1017.08ZM1017.58 544.52H1018.58V625.63H1017.58ZM1018.58 518.15H1019.58V625.63H1018.58ZM1019.58 518.15H1021.08V651.9H1019.58ZM1021.08 518.15H1022.58V625.63H1021.08ZM1022.58 544.52H1024.33V625.63H1022.58ZM1024.33 544.52H1026.33V651.9H1024.33ZM1026.33 544.52H1027.58V625.63H1026.33ZM1027.58 544.52H1028.58V651.9H1027.58ZM1028.58 518.15H1029.58V651.9H1028.58ZM1029.58 518.15H1031.58V625.63H1029.58ZM1031.58 518.15H1031.83V651.9H1031.58ZM1031.83 570.89H1033.83V651.9H1031.83ZM1033.83 544.52H1034.83V651.9H1033.83ZM1034.83 518.65H1035.33V651.9H1034.83ZM1035.33 518.65H1036.83V625.63H1035.33ZM1036.83 544.52H1037.58V625.63H1036.83ZM1037.58 518.15H1040.08V625.63H1037.58ZM1040.08 544.52H1041.83V625.63H1040.08ZM1041.83 518.65H1043.08V599.26H1041.83ZM1043.08 518.65H1043.58V625.63H1043.08ZM1043.58 544.52H1044.33V625.63H1043.58ZM1044.33 518.15H1044.58V625.63H1044.33ZM1044.58 518.15H1047.33V599.26H1044.58ZM1047.33 544.52H1048.08V651.9H1047.33ZM1048.08 518.15H1049.33V651.9H1048.08ZM1049.33 518.15H1049.83V625.63H1049.33ZM1049.83 518.15H1050.58V599.26H1049.83ZM1050.58 544.52H1051.33V599.26H1050.58ZM1051.33 544.52H1051.83V625.63H1051.33ZM1051.83 518.15H1057.83V625.63H1051.83ZM1057.83 544.52H1058.33V625.63H1057.83ZM1058.33 544.52H1061.08V599.26H1058.33ZM1061.08 544.52H1063.08V625.63H1061.08ZM1063.08 518.65H1064.58V625.63H1063.08ZM1064.58 518.65H1065.08V651.9H1064.58ZM1065.08 544.52H1066.58V651.9H1065.08ZM1066.58 544.52H1067.08V625.63H1066.58ZM1067.08 544.52H1068.83V599.26H1067.08ZM1068.83 544.52H1069.08V625.63H1068.83ZM1069.08 544.52H1071.33V651.9H1069.08ZM1071.33 518.15H1076.58V625.63H1071.33ZM1076.58 518.15H1076.83V651.9H1076.58ZM1076.83 492.28H1078.08V651.9H1076.83ZM1078.08 492.28H1078.83V625.63H1078.08ZM1078.83 518.15H1082.83V625.63H1078.83ZM1082.83 544.52H1083.83V625.63H1082.83ZM1083.83 544.52H1085.33V651.9H1083.83ZM1085.33 518.15H1085.58V651.9H1085.33ZM1085.58 518.15H1087.83V625.63H1085.58ZM1087.83 570.89H1089.08V625.63H1087.83ZM1089.08 544.52H1090.58V651.9H1089.08ZM1090.58 544.52H1091.83V625.63H1090.58ZM1091.83 544.52H1093.33V651.9H1091.83ZM1093.33 518.15H1097.08V651.9H1093.33ZM1097.08 492.28H1098.33V651.9H1097.08ZM1098.33 492.28H1099.08V625.63H1098.33ZM1099.08 518.15H1100.83V625.63H1099.08ZM1100.83 544.52H1101.08V625.63H1100.83ZM1101.08 544.52H1102.08V651.9H1101.08ZM1102.08 518.15H1102.58V651.9H1102.08ZM1102.58 492.28H1103.58V651.9H1102.58ZM1103.58 492.28H1104.58V625.63H1103.58ZM1104.58 544.52H1105.58V625.63H1104.58ZM1105.58 544.52H1106.58V651.9H1105.58ZM1106.58 518.65H1108.33V651.9H1106.58ZM1108.33 544.52H1108.83V651.9H1108.33ZM1108.83 544.52H1109.58V625.63H1108.83ZM1109.58 518.65H1110.58V625.63H1109.58ZM1110.58 518.65H1111.33V651.9H1110.58ZM1111.33 570.89H1111.58V651.9H1111.33ZM1111.58 570.89H1113.33V625.63H1111.58ZM1113.33 544.52H1114.83V651.9H1113.33ZM1114.83 544.52H1120.08V625.63H1114.83ZM1120.08 518.15H1122.08V625.63H1120.08ZM1122.08 518.15H1123.83V651.9H1122.08ZM1123.83 544.52H1124.08V651.9H1123.83ZM1124.08 544.52H1125.33V625.63H1124.08ZM1125.33 518.65H1126.58V625.63H1125.33ZM1126.58 518.65H1126.83V651.9H1126.58ZM1126.83 544.52H1128.08V651.9H1126.83ZM1128.08 544.52H1133.08V625.63H1128.08ZM1133.08 570.89H1133.33V625.63H1133.08ZM1133.33 570.89H1134.33V651.9H1133.33ZM1134.33 518.65H1135.08V651.9H1134.33ZM1135.08 518.65H1136.33V625.63H1135.08ZM1136.33 544.52H1136.58V625.63H1136.33ZM1136.58 544.52H1139.08V651.9H1136.58ZM1139.08 544.52H1140.08V625.63H1139.08ZM1140.08 518.65H1141.83V625.63H1140.08ZM1141.83 544.52H1142.83V625.63H1141.83ZM1142.83 518.65H1144.58V625.63H1142.83ZM1144.58 544.52H1146.83V625.63H1144.58ZM1146.83 570.89H1148.08V625.63H1146.83ZM1148.08 544.52H1148.83V625.63H1148.08ZM1148.83 544.52H1149.58V599.26H1148.83ZM1149.58 492.28H1151.08V599.26H1149.58ZM1151.08 492.28H1151.58V625.63H1151.08ZM1151.58 518.15H1153.08V625.63H1151.58ZM1153.08 518.15H1153.58V651.9H1153.08ZM1153.58 544.52H1155.58V651.9H1153.58ZM1155.58 544.52H1156.33V625.63H1155.58ZM1156.33 544.52H1158.33V599.26H1156.33ZM1158.33 544.52H1159.08V625.63H1158.33ZM1159.08 518.65H1159.33V625.63H1159.08ZM1159.33 518.65H1160.58V651.9H1159.33ZM1160.58 544.52H1161.58V651.9H1160.58ZM1161.58 544.52H1165.33V625.63H1161.58ZM1165.33 570.89H1166.83V625.63H1165.33ZM1166.83 570.89H1169.33V651.9H1166.83ZM1169.33 570.89H1171.58V625.63H1169.33ZM1171.58 545.02H1172.58V625.63H1171.58ZM1172.58 570.89H1173.33V625.63H1172.58ZM1173.33 545.02H1175.58V625.63H1173.33ZM1175.58 570.89H1176.33V625.63H1175.58ZM1176.33 544.52H1179.33V625.63H1176.33ZM1179.33 544.52H1184.33V651.9H1179.33ZM1184.33 570.89H1185.08V651.9H1184.33ZM1185.08 544.52H1185.83V651.9H1185.08ZM1185.83 518.15H1189.08V651.9H1185.83ZM1189.08 570.89H1190.08V651.9H1189.08ZM1190.08 544.52H1192.08V651.9H1190.08ZM1192.08 518.15H1193.83V651.9H1192.08ZM1193.83 518.15H1195.08V625.63H1193.83ZM1195.08 518.15H1195.58V651.9H1195.08ZM1195.58 544.52H1196.83V651.9H1195.58ZM1196.83 544.52H1197.33V625.63H1196.83ZM1197.33 518.65H1199.08V625.63H1197.33ZM1199.08 544.52H1199.83V625.63H1199.08ZM1199.83 518.15H1202.33V625.63H1199.83ZM1202.33 544.52H1202.83V625.63H1202.33ZM1202.83 518.15H1204.33V651.9H1202.83ZM1204.33 518.15H1205.33V625.63H1204.33ZM1205.33 544.52H1207.33V625.63H1205.33ZM1207.33 518.15H1207.58V625.63H1207.33ZM1207.58 518.15H1210.08V599.26H1207.58ZM1210.08 492.28H1210.83V599.26H1210.08ZM1210.83 492.28H1212.08V625.63H1210.83ZM1212.08 544.52H1214.58V625.63H1212.08ZM1214.58 518.15H1214.83V625.63H1214.58ZM1214.83 518.15H1216.83V651.9H1214.83ZM1216.83 518.15H1217.08V625.63H1216.83ZM1217.08 492.28H1217.58V625.63H1217.08ZM1217.58 492.28H1219.08V651.9H1217.58ZM1219.08 518.15H1219.83V651.9H1219.08ZM1219.83 492.28H1220.08V651.9H1219.83ZM1220.08 492.28H1221.83V625.63H1220.08ZM1221.83 544.52H1224.08V625.63H1221.83ZM1224.08 518.65H1225.33V625.63H1224.08ZM1225.33 518.65H1225.83V651.9H1225.33ZM1225.83 544.52H1227.08V651.9H1225.83ZM1227.08 544.52H1229.08V625.63H1227.08ZM1229.08 518.15H1229.58V599.26H1229.08ZM1229.58 492.28H1231.08V599.26H1229.58ZM1231.08 492.28H1231.58V625.63H1231.08ZM1231.58 518.15H1232.08V625.63H1231.58ZM1232.08 518.15H1234.08V651.9H1232.08ZM1234.08 544.52H1235.08V651.9H1234.08ZM1235.08 544.52H1237.08V625.63H1235.08ZM1237.08 544.52H1239.08V651.9H1237.08ZM1239.08 544.52H1243.08V625.63H1239.08ZM1243.08 544.52H1245.08V599.26H1243.08ZM1245.08 544.52H1248.08V651.9H1245.08ZM1248.08 518.15H1250.33V651.9H1248.08ZM1250.33 518.15H1250.58V625.63H1250.33ZM1250.58 544.52H1252.08V625.63H1250.58ZM1252.08 518.65H1254.33V625.63H1252.08ZM1254.33 544.52H1255.58V651.9H1254.33ZM1255.58 518.15H1258.08V625.63H1255.58ZM1258.08 544.52H1259.33V625.63H1258.08ZM1259.33 570.89H1260.58V625.63H1259.33ZM1260.58 544.52H1261.58V625.63H1260.58ZM1261.58 544.52H1263.58V651.9H1261.58ZM1263.58 518.65H1265.83V651.9H1263.58ZM1265.83 544.52H1266.58V651.9H1265.83ZM1266.58 544.52H1270.58V625.63H1266.58ZM1270.58 570.89H1271.83V625.63H1270.58ZM1271.83 544.52H1272.33V625.63H1271.83ZM1272.33 518.15H1272.58V625.63H1272.33ZM1272.58 492.28H1274.58V625.63H1272.58ZM1274.58 518.15H1279.33V625.63H1274.58ZM1279.33 544.52H1284.83V625.63H1279.33ZM1284.83 518.15H1288.58V625.63H1284.83ZM1288.58 544.52H1291.83V625.63H1288.58ZM1291.83 544.52H1292.33V651.9H1291.83ZM1292.33 518.15H1293.58V651.9H1292.33ZM1293.58 518.15H1295.08V625.63H1293.58ZM1295.08 518.15H1296.83V651.9H1295.08ZM1296.83 518.15H1302.83V625.63H1296.83ZM1302.83 544.52H1304.08V625.63H1302.83ZM1304.08 518.15H1306.83V625.63H1304.08ZM1306.83 518.15H1307.58V651.9H1306.83ZM1307.58 518.15H1308.33V625.63H1307.58ZM1308.33 544.52H1309.33V625.63H1308.33ZM1309.33 544.52H1310.33V651.9H1309.33ZM1310.33 518.65H1310.58V651.9H1310.33ZM1310.58 518.65H1310.83V625.63H1310.58ZM1310.83 518.65H1312.08V599.26H1310.83ZM1312.08 544.52H1312.83V599.26H1312.08ZM1312.83 544.52H1314.58V625.63H1312.83ZM1314.58 518.15H1315.33V651.9H1314.58ZM1315.33 518.15H1316.83V625.63H1315.33ZM1316.83 518.15H1319.58V651.9H1316.83ZM1319.58 544.52H1320.08V651.9H1319.58Z" fill="#c00000"/>
<text x="783.16" y="659.57" font-size="25.7" text-anchor="end">0</text>
<text x="783.16" y="606.83" font-size="25.7" text-anchor="end">2</text>
<text x="783.16" y="554.09" font-size="25.7" text-anchor="end">4</text>
<text x="783.16" y="501.35" font-size="25.7" text-anchor="end">6</text>
<text x="783.16" y="448.61" font-size="25.7" text-anchor="end">8</text>
<text x="783.16" y="395.87" font-size="25.7" text-anchor="end">10</text>
<text x="806.2" y="691.45" font-size="25.7" text-anchor="middle">0</text>
<text x="908.88" y="691.45" font-size="25.7" text-anchor="middle">20</text>
<text x="1011.56" y="691.45" font-size="25.7" text-anchor="middle">40</text>
<text x="1114.24" y="691.45" font-size="25.7" text-anchor="middle">60</text>
<text x="1216.92" y="691.45" font-size="25.7" text-anchor="middle">80</text>
<text x="1319.6" y="691.45" font-size="25.7" text-anchor="middle">100</text>
<text x="999.42" y="725.9" font-size="27.9">Time (ns)</text>
<text transform="translate(749.8 671.1) rotate(-90)" font-size="28.2">Number of hydrogen</text>
<rect x="1459.7" y="14.8" width="507.3" height="262.2" fill="none" stroke="#000" stroke-width="2.5"/>
<path d="M1459.7 277h7.8M1459.7 224.56h7.8M1459.7 172.12h7.8M1459.7 119.68h7.8M1459.7 67.24h7.8M1459.7 14.8h7.8M1459.7 277v-7.8M1561.16 277v-7.8M1662.62 277v-7.8M1764.08 277v-7.8M1865.54 277v-7.8M1967 277v-7.8" stroke="#000" stroke-width="2.5" fill="none"/>
<path d="M1459.58 145.4H1461.33V277.9H1459.58ZM1461.33 171.12H1463.33V251.78H1461.33ZM1463.33 171.12H1466.83V277.9H1463.33ZM1466.83 197.34H1467.08V277.9H1466.83ZM1467.08 171.62H1469.08V277.9H1467.08ZM1469.08 197.34H1471.83V277.9H1469.08ZM1471.83 171.62H1473.83V277.9H1471.83ZM1473.83 197.34H1475.83V277.9H1473.83ZM1475.83 171.62H1477.83V277.9H1475.83ZM1477.83 197.34H1478.58V277.9H1477.83ZM1478.58 171.62H1480.58V277.9H1478.58ZM1480.58 197.34H1482.58V277.9H1480.58ZM1482.58 171.62H1484.58V277.9H1482.58ZM1484.58 197.34H1486.33V277.9H1484.58ZM1486.33 223.56H1492.08V277.9H1486.33ZM1492.08 197.34H1495.08V277.9H1492.08ZM1495.08 171.62H1497.08V277.9H1495.08ZM1497.08 197.34H1501.83V277.9H1497.08ZM1501.83 223.56H1502.83V277.9H1501.83ZM1502.83 249.78H1504.58V277.9H1502.83ZM1504.58 223.56H1506.08V277.9H1504.58ZM1506.08 197.84H1508.08V277.9H1506.08ZM1508.08 223.56H1508.58V277.9H1508.08ZM1508.58 249.78H1510.33V277.9H1508.58ZM1510.33 197.84H1512.33V277.9H1510.33ZM1512.33 249.78H1514.33V277.9H1512.33ZM1514.33 197.34H1521.33V277.9H1514.33ZM1521.33 223.56H1522.58V277.9H1521.33ZM1522.58 197.84H1524.33V277.9H1522.58ZM1524.33 223.56H1525.33V277.9H1524.33ZM1525.33 197.34H1533.08V277.9H1525.33ZM1533.08 223.56H1534.08V277.9H1533.08ZM1534.08 197.34H1537.83V277.9H1534.08ZM1537.83 223.56H1538.83V277.9H1537.83ZM1538.83 197.34H1546.83V277.9H1538.83ZM1546.83 171.62H1548.83V277.9H1546.83ZM1548.83 197.34H1551.33V277.9H1548.83ZM1551.33 223.56H1551.83V277.9H1551.33ZM1551.83 171.62H1553.83V277.9H1551.83ZM1553.83 197.84H1554.08V277.9H1553.83ZM1554.08 223.56H1555.33V277.9H1554.08ZM1555.33 197.34H1558.83V277.9H1555.33ZM1558.83 223.56H1560.08V277.9H1558.83ZM1560.08 197.34H1563.33V277.9H1560.08ZM1563.33 223.56H1572.08V277.9H1563.33ZM1572.08 197.34H1592.58V277.9H1572.08ZM1592.58 171.12H1597.33V277.9H1592.58ZM1597.33 197.34H1602.08V277.9H1597.33ZM1602.08 171.62H1604.08V277.9H1602.08ZM1604.08 197.34H1609.33V277.9H1604.08ZM1609.33 223.56H1610.33V277.9H1609.33ZM1610.33 197.34H1616.58V277.9H1610.33ZM1616.58 171.12H1620.58V277.9H1616.58ZM1620.58 197.34H1628.58V277.9H1620.58ZM1628.58 223.56H1629.58V277.9H1628.58ZM1629.58 197.34H1639.58V277.9H1629.58ZM1639.58 171.12H1640.58V277.9H1639.58ZM1640.58 171.12H1641.58V251.78H1640.58ZM1641.58 171.12H1644.58V277.9H1641.58ZM1644.58 197.34H1645.33V277.9H1644.58ZM1645.33 171.62H1647.33V277.9H1645.33ZM1647.33 197.34H1648.33V277.9H1647.33ZM1648.33 171.62H1650.33V277.9H1648.33ZM1650.33 197.34H1651.08V277.9H1650.33ZM1651.08 171.62H1653.08V277.9H1651.08ZM1653.08 197.34H1655.08V277.9H1653.08ZM1655.08 171.62H1657.08V277.9H1655.08ZM1657.08 197.34H1668.58V277.9H1657.08ZM1668.58 171.62H1670.58V277.9H1668.58ZM1670.58 197.34H1674.33V277.9H1670.58ZM1674.33 223.56H1675.08V277.9H1674.33ZM1675.08 171.62H1677.08V277.9H1675.08ZM1677.08 223.56H1679.08V277.9H1677.08ZM1679.08 197.34H1683.08V277.9H1679.08ZM1683.08 223.56H1685.83V277.9H1683.08ZM1685.83 197.34H1689.58V277.9H1685.83ZM1689.58 223.56H1691.58V277.9H1689.58ZM1691.58 197.34H1695.58V277.9H1691.58ZM1695.58 223.56H1698.33V277.9H1695.58ZM1698.33 197.34H1702.58V277.9H1698.33ZM1702.58 223.56H1703.83V277.9H1702.58ZM1703.83 197.34H1704.83V277.9H1703.83ZM1704.83 171.62H1706.83V277.9H1704.83ZM1706.83 197.34H1707.33V277.9H1706.83ZM1707.33 171.62H1709.33V277.9H1707.33ZM1709.33 197.34H1711.83V277.9H1709.33ZM1711.83 145.4H1713.83V277.9H1711.83ZM1713.83 197.34H1715.58V277.9H1713.83ZM1715.58 223.56H1719.58V277.9H1715.58ZM1719.58 197.34H1722.33V277.9H1719.58ZM1722.33 171.12H1725.58V277.9H1722.33ZM1725.58 197.34H1736.58V277.9H1725.58ZM1736.58 171.62H1738.58V277.9H1736.58ZM1738.58 223.56H1743.33V277.9H1738.58ZM1743.33 249.78H1744.33V277.9H1743.33ZM1744.33 223.56H1745.83V277.9H1744.33ZM1745.83 197.34H1755.33V277.9H1745.83ZM1755.33 171.62H1757.33V277.9H1755.33ZM1757.33 223.56H1760.08V277.9H1757.33ZM1760.08 249.78H1761.08V277.9H1760.08ZM1761.08 223.56H1762.58V277.9H1761.08ZM1762.58 171.62H1764.58V277.9H1762.58ZM1764.58 223.56H1766.08V277.9H1764.58ZM1766.08 197.34H1769.83V277.9H1766.08ZM1769.83 171.62H1771.83V277.9H1769.83ZM1771.83 197.34H1772.83V277.9H1771.83ZM1772.83 223.56H1777.08V277.9H1772.83ZM1777.08 249.78H1778.08V277.9H1777.08ZM1778.08 223.56H1778.58V277.9H1778.08ZM1778.58 197.34H1783.33V277.9H1778.58ZM1783.33 223.56H1785.58V277.9H1783.33ZM1785.58 249.78H1786.58V277.9H1785.58ZM1786.58 223.56H1789.58V277.9H1786.58ZM1789.58 249.78H1790.58V277.9H1789.58ZM1790.58 224.06H1792.58V277.9H1790.58ZM1792.58 249.78H1793.58V277.9H1792.58ZM1793.58 223.56H1795.33V277.9H1793.58ZM1795.33 197.84H1797.33V277.9H1795.33ZM1797.33 223.56H1798.08V277.9H1797.33ZM1798.08 249.78H1799.08V277.9H1798.08ZM1799.08 224.06H1801.08V277.9H1799.08ZM1801.08 249.78H1802.08V277.9H1801.08ZM1802.08 224.06H1804.08V277.9H1802.08ZM1804.08 249.78H1805.08V277.9H1804.08ZM1805.08 223.56H1810.33V277.9H1805.08ZM1810.33 197.34H1813.58V277.9H1810.33ZM1813.58 171.62H1815.58V277.9H1813.58ZM1815.58 197.34H1821.83V277.9H1815.58ZM1821.83 223.56H1825.58V277.9H1821.83ZM1825.58 171.62H1827.58V277.9H1825.58ZM1827.58 197.34H1828.58V277.9H1827.58ZM1828.58 223.56H1835.33V277.9H1828.58ZM1835.33 197.84H1837.08V277.9H1835.33ZM1837.08 223.56H1839.08V277.9H1837.08ZM1839.08 197.34H1850.83V277.9H1839.08ZM1850.83 171.62H1852.83V277.9H1850.83ZM1852.83 223.56H1860.33V277.9H1852.83ZM1860.33 171.62H1862.33V277.9H1860.33ZM1862.33 197.34H1882.58V277.9H1862.33ZM1882.58 171.62H1884.58V277.9H1882.58ZM1884.58 197.34H1888.83V277.9H1884.58ZM1888.83 223.56H1889.83V277.9H1888.83ZM1889.83 197.34H1893.08V277.9H1889.83ZM1893.08 223.56H1894.08V277.9H1893.08ZM1894.08 249.78H1895.08V277.9H1894.08ZM1895.08 223.56H1897.08V277.9H1895.08ZM1897.08 197.84H1898.83V277.9H1897.08ZM1898.83 223.56H1900.08V277.9H1898.83ZM1900.08 197.34H1907.08V277.9H1900.08ZM1907.08 223.56H1908.08V277.9H1907.08ZM1908.08 197.34H1909.58V277.9H1908.08ZM1909.58 171.12H1915.33V277.9H1909.58ZM1915.33 197.34H1917.08V277.9H1915.33ZM1917.08 223.56H1918.08V277.9H1917.08ZM1918.08 197.34H1919.08V277.9H1918.08ZM1919.08 171.12H1923.33V277.9H1919.08ZM1923.33 171.12H1923.83V251.78H1923.33ZM1923.83 145.4H1924.33V251.78H1923.83ZM1924.33 145.4H1925.83V277.9H1924.33ZM1925.83 171.12H1926.33V277.9H1925.83ZM1926.33 171.12H1926.83V251.78H1926.33ZM1926.83 145.4H1927.33V251.78H1926.83ZM1927.33 145.4H1928.83V277.9H1927.33ZM1928.83 171.12H1929.58V277.9H1928.83ZM1929.58 145.4H1930.08V277.9H1929.58ZM1930.08 145.4H1931.08V251.78H1930.08ZM1931.08 145.4H1931.58V277.9H1931.08ZM1931.58 171.12H1932.58V277.9H1931.58ZM1932.58 197.34H1940.33V277.9H1932.58ZM1940.33 171.12H1941.33V277.9H1940.33ZM1941.33 171.12H1942.58V251.78H1941.33ZM1942.58 171.12H1943.58V277.9H1942.58ZM1943.58 171.12H1945.08V251.78H1943.58ZM1945.08 171.12H1945.58V277.9H1945.08ZM1945.58 197.34H1946.58V277.9H1945.58ZM1946.58 171.62H1948.33V277.9H1946.58ZM1948.33 197.34H1949.33V277.9H1948.33ZM1949.33 171.62H1951.33V277.9H1949.33ZM1951.33 197.34H1952.33V277.9H1951.33ZM1952.33 171.62H1954.08V277.9H1952.33ZM1954.08 197.34H1955.33V277.9H1954.08ZM1955.33 171.62H1957.08V277.9H1955.33ZM1957.08 197.34H1958.08V277.9H1957.08ZM1958.08 171.62H1959.08V277.9H1958.08ZM1959.08 171.62H1959.58V251.78H1959.08ZM1959.58 197.34H1960.08V251.78H1959.58ZM1960.08 197.34H1961.83V277.9H1960.08ZM1961.83 197.34H1962.83V251.78H1961.83ZM1962.83 197.34H1967.58V277.9H1962.83Z" fill="#0000ff"/>
<text x="1437.06" y="285.67" font-size="25.7" text-anchor="end">0</text>
<text x="1437.06" y="233.23" font-size="25.7" text-anchor="end">2</text>
<text x="1437.06" y="180.79" font-size="25.7" text-anchor="end">4</text>
<text x="1437.06" y="128.35" font-size="25.7" text-anchor="end">6</text>
<text x="1437.06" y="75.91" font-size="25.7" text-anchor="end">8</text>
<text x="1437.06" y="23.47" font-size="25.7" text-anchor="end">10</text>
<text x="1459.7" y="316.25" font-size="25.7" text-anchor="middle">0</text>
<text x="1561.16" y="316.25" font-size="25.7" text-anchor="middle">20</text>
<text x="1662.62" y="316.25" font-size="25.7" text-anchor="middle">40</text>
<text x="1764.08" y="316.25" font-size="25.7" text-anchor="middle">60</text>
<text x="1865.54" y="316.25" font-size="25.7" text-anchor="middle">80</text>
<text x="1967" y="316.25" font-size="25.7" text-anchor="middle">100</text>
<text x="1652.62" y="353.6" font-size="27.8">Time (ns)</text>
<text transform="translate(1406.4 306.2) rotate(-90)" font-size="27.84">Number of Hydrogen</text>
<rect x="1459.7" y="388" width="513.7" height="264.5" fill="none" stroke="#000" stroke-width="2.5"/>
<path d="M1459.7 652.5h7.8M1459.7 599.6h7.8M1459.7 546.7h7.8M1459.7 493.8h7.8M1459.7 440.9h7.8M1459.7 388h7.8M1459.7 652.5v-7.8M1562.44 652.5v-7.8M1665.18 652.5v-7.8M1767.92 652.5v-7.8M1870.66 652.5v-7.8M1973.4 652.5v-7.8" stroke="#000" stroke-width="2.5" fill="none"/>
<path d="M1459.58 572.15H1460.08V653.4H1459.58ZM1460.08 519.75H1461.33V627.05H1460.08ZM1461.33 545.7H1462.58V627.05H1461.33ZM1462.58 519.25H1466.58V627.05H1462.58ZM1466.58 545.7H1468.83V627.05H1466.58ZM1468.83 519.75H1470.58V627.05H1468.83ZM1470.58 545.7H1471.08V627.05H1470.58ZM1471.08 519.75H1472.58V627.05H1471.08ZM1472.58 519.75H1473.08V653.4H1472.58ZM1473.08 545.7H1474.83V653.4H1473.08ZM1474.83 519.25H1477.33V627.05H1474.83ZM1477.33 519.25H1478.08V653.4H1477.33ZM1478.08 493.3H1479.08V653.4H1478.08ZM1479.08 493.3H1480.08V627.05H1479.08ZM1480.08 545.7H1480.83V627.05H1480.08ZM1480.83 519.25H1483.83V627.05H1480.83ZM1483.83 519.25H1484.08V653.4H1483.83ZM1484.08 493.3H1486.08V653.4H1484.08ZM1486.08 519.25H1486.58V627.05H1486.08ZM1486.58 545.7H1487.83V627.05H1486.58ZM1487.83 493.3H1489.08V627.05H1487.83ZM1489.08 493.3H1489.83V653.4H1489.08ZM1489.83 545.7H1490.08V653.4H1489.83ZM1490.08 545.7H1490.58V627.05H1490.08ZM1490.58 545.7H1492.33V653.4H1490.58ZM1492.33 545.7H1493.08V627.05H1492.33ZM1493.08 519.25H1496.33V627.05H1493.08ZM1496.33 545.7H1496.83V627.05H1496.33ZM1496.83 519.75H1498.33V653.4H1496.83ZM1498.33 545.7H1498.58V653.4H1498.33ZM1498.58 545.7H1500.08V627.05H1498.58ZM1500.08 545.7H1502.58V653.4H1500.08ZM1502.58 519.75H1504.33V627.05H1502.58ZM1504.33 545.7H1504.58V627.05H1504.33ZM1504.58 545.7H1506.58V653.4H1504.58ZM1506.58 545.7H1510.83V627.05H1506.58ZM1510.83 519.25H1517.58V627.05H1510.83ZM1517.58 519.25H1518.83V600.6H1517.58ZM1518.83 519.25H1520.08V627.05H1518.83ZM1520.08 493.3H1522.08V627.05H1520.08ZM1522.08 519.25H1526.08V627.05H1522.08ZM1526.08 545.7H1527.08V627.05H1526.08ZM1527.08 519.25H1529.08V627.05H1527.08ZM1529.08 519.25H1530.33V653.4H1529.08ZM1530.33 519.25H1531.83V627.05H1530.33ZM1531.83 519.25H1533.08V653.4H1531.83ZM1533.08 545.7H1533.58V653.4H1533.08ZM1533.58 545.7H1538.33V627.05H1533.58ZM1538.33 519.75H1540.08V627.05H1538.33ZM1540.08 545.7H1540.58V627.05H1540.08ZM1540.58 545.7H1540.83V653.4H1540.58ZM1540.83 519.25H1542.58V653.4H1540.83ZM1542.58 519.25H1543.58V627.05H1542.58ZM1543.58 545.7H1545.33V627.05H1543.58ZM1545.33 519.25H1546.58V627.05H1545.33ZM1546.58 519.25H1547.83V653.4H1546.58ZM1547.83 519.25H1549.08V627.05H1547.83ZM1549.08 519.25H1549.33V653.4H1549.08ZM1549.33 493.3H1550.33V653.4H1549.33ZM1550.33 493.3H1551.08V627.05H1550.33ZM1551.08 493.3H1551.33V653.4H1551.08ZM1551.33 519.25H1552.08V653.4H1551.33ZM1552.08 493.3H1552.58V653.4H1552.08ZM1552.58 493.3H1553.58V627.05H1552.58ZM1553.58 493.3H1554.08V653.4H1553.58ZM1554.08 519.25H1554.83V653.4H1554.08ZM1554.83 519.25H1555.58V627.05H1554.83ZM1555.58 545.7H1556.83V627.05H1555.58ZM1556.83 493.3H1558.83V627.05H1556.83ZM1558.83 519.25H1561.33V627.05H1558.83ZM1561.33 545.7H1561.83V627.05H1561.33ZM1561.83 545.7H1562.33V653.4H1561.83ZM1562.33 519.25H1566.83V653.4H1562.33ZM1566.83 519.25H1567.58V627.05H1566.83ZM1567.58 545.7H1569.58V627.05H1567.58ZM1569.58 519.25H1571.33V653.4H1569.58ZM1571.33 519.25H1573.08V627.05H1571.33ZM1573.08 519.25H1573.33V653.4H1573.08ZM1573.33 545.7H1574.08V653.4H1573.33ZM1574.08 519.75H1575.08V653.4H1574.08ZM1575.08 519.75H1575.58V627.05H1575.08ZM1575.58 545.7H1577.33V627.05H1575.58ZM1577.33 545.7H1579.08V653.4H1577.33ZM1579.08 572.15H1580.08V653.4H1579.08ZM1580.08 598.6H1581.08V653.4H1580.08ZM1581.08 545.7H1588.83V653.4H1581.08ZM1588.83 572.15H1597.08V653.4H1588.83ZM1597.08 598.6H1598.08V653.4H1597.08ZM1598.08 572.15H1602.83V653.4H1598.08ZM1602.83 572.15H1603.58V627.05H1602.83ZM1603.58 572.15H1603.83V653.4H1603.58ZM1603.83 546.2H1605.83V653.4H1603.83ZM1605.83 572.15H1609.58V653.4H1605.83ZM1609.58 598.6H1610.83V653.4H1609.58ZM1610.83 572.15H1612.08V653.4H1610.83ZM1612.08 545.7H1615.33V653.4H1612.08ZM1615.33 572.15H1616.33V653.4H1615.33ZM1616.33 546.2H1617.08V653.4H1616.33ZM1617.08 546.2H1618.08V627.05H1617.08ZM1618.08 546.2H1618.33V653.4H1618.08ZM1618.33 572.15H1620.83V653.4H1618.33ZM1620.83 546.2H1622.83V653.4H1620.83ZM1622.83 572.15H1624.58V653.4H1622.83ZM1624.58 572.15H1625.58V627.05H1624.58ZM1625.58 572.15H1631.83V653.4H1625.58ZM1631.83 545.7H1637.08V653.4H1631.83ZM1637.08 572.15H1637.83V653.4H1637.08ZM1637.83 546.2H1639.08V653.4H1637.83ZM1639.08 598.6H1640.08V653.4H1639.08ZM1640.08 572.15H1641.83V653.4H1640.08ZM1641.83 546.2H1643.83V653.4H1641.83ZM1643.83 572.15H1645.83V653.4H1643.83ZM1645.83 598.6H1646.83V653.4H1645.83ZM1646.83 572.15H1667.08V653.4H1646.83ZM1667.08 545.7H1670.83V653.4H1667.08ZM1670.83 572.15H1675.33V653.4H1670.83ZM1675.33 598.6H1676.33V653.4H1675.33ZM1676.33 572.15H1678.08V653.4H1676.33ZM1678.08 546.2H1680.08V653.4H1678.08ZM1680.08 572.15H1682.08V653.4H1680.08ZM1682.08 546.2H1684.08V653.4H1682.08ZM1684.08 572.15H1696.83V653.4H1684.08ZM1696.83 598.6H1700.08V653.4H1696.83ZM1700.08 572.15H1708.33V653.4H1700.08ZM1708.33 572.15H1709.33V627.05H1708.33ZM1709.33 572.15H1710.08V653.4H1709.33ZM1710.08 572.15H1714.08V627.05H1710.08ZM1714.08 572.15H1715.58V653.4H1714.08ZM1715.58 546.2H1717.58V653.4H1715.58ZM1717.58 572.15H1718.58V653.4H1717.58ZM1718.58 545.7H1722.58V653.4H1718.58ZM1722.58 572.15H1722.83V653.4H1722.58ZM1722.83 546.2H1724.83V653.4H1722.83ZM1724.83 572.15H1725.83V653.4H1724.83ZM1725.83 598.6H1726.83V653.4H1725.83ZM1726.83 572.15H1728.08V653.4H1726.83ZM1728.08 545.7H1733.58V653.4H1728.08ZM1733.58 572.15H1735.33V653.4H1733.58ZM1735.33 598.6H1736.58V653.4H1735.33ZM1736.58 572.15H1736.83V653.4H1736.58ZM1736.83 545.7H1742.83V653.4H1736.83ZM1742.83 572.15H1744.08V653.4H1742.83ZM1744.08 598.6H1745.08V653.4H1744.08ZM1745.08 572.15H1747.33V653.4H1745.08ZM1747.33 545.7H1750.33V653.4H1747.33ZM1750.33 572.15H1751.08V653.4H1750.33ZM1751.08 545.7H1754.08V653.4H1751.08ZM1754.08 572.15H1756.83V653.4H1754.08ZM1756.83 545.7H1759.08V653.4H1756.83ZM1759.08 519.75H1759.83V653.4H1759.08ZM1759.83 519.75H1760.83V627.05H1759.83ZM1760.83 519.75H1761.08V653.4H1760.83ZM1761.08 545.7H1762.08V653.4H1761.08ZM1762.08 572.15H1762.83V653.4H1762.08ZM1762.83 546.2H1764.08V653.4H1762.83ZM1764.08 546.2H1764.83V627.05H1764.08ZM1764.83 572.15H1766.83V627.05H1764.83ZM1766.83 572.15H1771.58V653.4H1766.83ZM1771.58 546.2H1773.58V653.4H1771.58ZM1773.58 572.15H1783.83V653.4H1773.58ZM1783.83 545.7H1786.58V653.4H1783.83ZM1786.58 572.15H1796.83V653.4H1786.58ZM1796.83 546.2H1798.83V653.4H1796.83ZM1798.83 572.15H1802.83V653.4H1798.83ZM1802.83 519.75H1804.83V653.4H1802.83ZM1804.83 572.15H1808.08V653.4H1804.83ZM1808.08 546.2H1810.08V653.4H1808.08ZM1810.08 572.15H1814.08V653.4H1810.08ZM1814.08 546.2H1816.08V653.4H1814.08ZM1816.08 572.15H1818.58V653.4H1816.08ZM1818.58 546.2H1820.58V653.4H1818.58ZM1820.58 572.15H1827.58V653.4H1820.58ZM1827.58 598.6H1828.83V653.4H1827.58ZM1828.83 546.2H1830.83V653.4H1828.83ZM1830.83 572.15H1838.83V653.4H1830.83ZM1838.83 598.6H1840.08V653.4H1838.83ZM1840.08 546.2H1841.33V653.4H1840.08ZM1841.33 572.65H1841.58V653.4H1841.33ZM1841.58 598.6H1842.58V653.4H1841.58ZM1842.58 546.2H1844.08V653.4H1842.58ZM1844.08 572.15H1849.33V653.4H1844.08ZM1849.33 598.6H1850.33V653.4H1849.33ZM1850.33 572.15H1853.33V653.4H1850.33ZM1853.33 546.2H1855.33V653.4H1853.33ZM1855.33 572.15H1858.08V653.4H1855.33ZM1858.08 598.6H1859.33V653.4H1858.08ZM1859.33 572.15H1861.33V653.4H1859.33ZM1861.33 545.7H1863.83V653.4H1861.33ZM1863.83 572.15H1867.33V653.4H1863.83ZM1867.33 519.25H1871.33V653.4H1867.33ZM1871.33 519.25H1871.83V627.05H1871.33ZM1871.83 572.15H1872.08V627.05H1871.83ZM1872.08 572.15H1876.83V653.4H1872.08ZM1876.83 546.2H1877.33V653.4H1876.83ZM1877.33 546.2H1878.33V627.05H1877.33ZM1878.33 546.2H1878.83V653.4H1878.33ZM1878.83 572.15H1881.58V653.4H1878.83ZM1881.58 598.6H1882.58V653.4H1881.58ZM1882.58 572.15H1885.08V653.4H1882.58ZM1885.08 572.15H1885.58V627.05H1885.08ZM1885.58 546.2H1886.33V627.05H1885.58ZM1886.33 546.2H1887.58V653.4H1886.33ZM1887.58 572.15H1891.58V653.4H1887.58ZM1891.58 546.2H1893.58V653.4H1891.58ZM1893.58 572.15H1903.83V653.4H1893.58ZM1903.83 546.2H1905.83V653.4H1903.83ZM1905.83 572.15H1906.83V653.4H1905.83ZM1906.83 572.15H1909.58V627.05H1906.83ZM1909.58 572.15H1910.33V653.4H1909.58ZM1910.33 546.2H1912.33V653.4H1910.33ZM1912.33 572.15H1920.83V653.4H1912.33ZM1920.83 546.2H1922.83V653.4H1920.83ZM1922.83 572.15H1926.58V653.4H1922.83ZM1926.58 572.15H1927.58V627.05H1926.58ZM1927.58 572.15H1931.08V653.4H1927.58ZM1931.08 598.6H1932.33V653.4H1931.08ZM1932.33 572.15H1934.58V653.4H1932.33ZM1934.58 546.2H1936.58V653.4H1934.58ZM1936.58 572.15H1942.58V653.4H1936.58ZM1942.58 598.6H1943.58V653.4H1942.58ZM1943.58 572.15H1948.58V653.4H1943.58ZM1948.58 546.2H1950.58V653.4H1948.58ZM1950.58 572.15H1952.58V653.4H1950.58ZM1952.58 572.15H1953.58V627.05H1952.58ZM1953.58 572.15H1957.33V653.4H1953.58ZM1957.33 572.15H1958.33V627.05H1957.33ZM1958.33 572.15H1959.08V653.4H1958.33ZM1959.08 546.2H1961.08V653.4H1959.08ZM1961.08 572.15H1966.08V653.4H1961.08ZM1966.08 546.2H1968.08V653.4H1966.08ZM1968.08 572.15H1968.58V653.4H1968.08ZM1968.58 598.6H1968.83V653.4H1968.58ZM1969.58 598.6H1969.83V653.4H1969.58ZM1969.83 572.15H1970.58V653.4H1969.83ZM1970.58 545.7H1973.83V653.4H1970.58Z" fill="#0000ff"/>
<text x="1436.56" y="660.97" font-size="25.7" text-anchor="end">0</text>
<text x="1436.56" y="608.07" font-size="25.7" text-anchor="end">2</text>
<text x="1436.56" y="555.17" font-size="25.7" text-anchor="end">4</text>
<text x="1436.56" y="502.27" font-size="25.7" text-anchor="end">6</text>
<text x="1436.56" y="449.37" font-size="25.7" text-anchor="end">8</text>
<text x="1436.56" y="396.47" font-size="25.7" text-anchor="end">10</text>
<text x="1459.7" y="693.05" font-size="25.7" text-anchor="middle">0</text>
<text x="1562.44" y="693.05" font-size="25.7" text-anchor="middle">20</text>
<text x="1665.18" y="693.05" font-size="25.7" text-anchor="middle">40</text>
<text x="1767.92" y="693.05" font-size="25.7" text-anchor="middle">60</text>
<text x="1870.66" y="693.05" font-size="25.7" text-anchor="middle">80</text>
<text x="1973.4" y="693.05" font-size="25.7" text-anchor="middle">100</text>
<text x="1652.92" y="728.4" font-size="28.1">Time (ns)</text>
<text transform="translate(1402.8 673) rotate(-90)" font-size="28.15">Number of hydrogen</text>
<text transform="translate(41.3 223.8) rotate(-90)" font-size="43" textLength="155" lengthAdjust="spacingAndGlyphs">Chain A</text>
<text transform="translate(40.6 576.6) rotate(-90)" font-size="43" textLength="154.5" lengthAdjust="spacingAndGlyphs">Chain B</text>
<text x="358.48" y="783.46" font-size="50.5">(a)</text>
<text x="1006.88" y="782.46" font-size="50.5">(b)</text>
<text x="1672.97" y="782.46" font-size="50.5">(c)</text>
</svg>
</body></html>
